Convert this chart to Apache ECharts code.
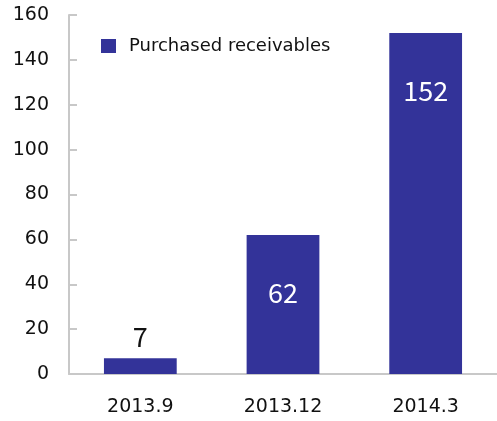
<!DOCTYPE html>
<html>
<head>
<meta charset="utf-8">
<script src="https://cdn.jsdelivr.net/npm/echarts@6/dist/echarts.min.js"></script>
<style>
  html, body { margin: 0; padding: 0; background: #fff; }
  #chart { width: 497px; height: 421px; }
</style>
</head>
<body>
<div id="chart"></div>
<script>
// Period-end balances of purchased receivables
const periods = ['2013.9', '2013.12', '2014.3'];
const receivables = [7, 62, 152];
const seriesName = 'Purchased receivables';
const yTicks = { min: 0, max: 160, step: 20 };

const FONT = '"DejaVu Sans", "Noto Sans", sans-serif';
const VALUE_FONT = '"Noto Sans CJK JP", "Noto Sans", sans-serif';
const BAR = '#333399';
const AXIS = '#c8c8c8';

// small values get their label above the bar, larger ones inside in white
const barData = receivables.map(v => ({
  value: v,
  label: v < 20
    ? { position: 'top', distance: 8, color: '#111' }
    : { position: 'insideTop', distance: 44, color: '#fff' }
}));

const chart = echarts.init(document.getElementById('chart'), null, { renderer: 'canvas' });
chart.setOption({
  animation: false,
  backgroundColor: '#fff',
  grid: { left: 69, right: 0, top: 15, bottom: 47, containLabel: false },
  legend: {
    data: [seriesName],
    left: 96, top: 32,
    icon: 'rect',
    itemWidth: 15, itemHeight: 14, itemGap: 10,
    textStyle: { fontFamily: FONT, fontSize: 18, color: '#111', padding: [0, 0, 0, 8] }
  },
  xAxis: {
    type: 'category',
    data: periods,
    axisLine: { lineStyle: { color: AXIS, width: 2 } },
    axisTick: { show: false },
    axisLabel: { fontFamily: FONT, fontSize: 19, color: '#111', margin: 24 }
  },
  yAxis: {
    type: 'value',
    min: yTicks.min, max: yTicks.max, interval: yTicks.step,
    splitLine: { show: false },
    axisLine: { show: true, lineStyle: { color: AXIS, width: 2 } },
    axisTick: { show: true, inside: true, length: 8, lineStyle: { color: AXIS, width: 2 } },
    axisLabel: { fontFamily: FONT, fontSize: 19, color: '#111', margin: 20 }
  },
  series: [{
    name: seriesName,
    type: 'bar',
    data: barData,
    barWidth: '51%',
    itemStyle: { color: BAR },
    label: { show: true, fontFamily: VALUE_FONT, fontSize: 27 }
  }]
});
</script>
</body>
</html>
